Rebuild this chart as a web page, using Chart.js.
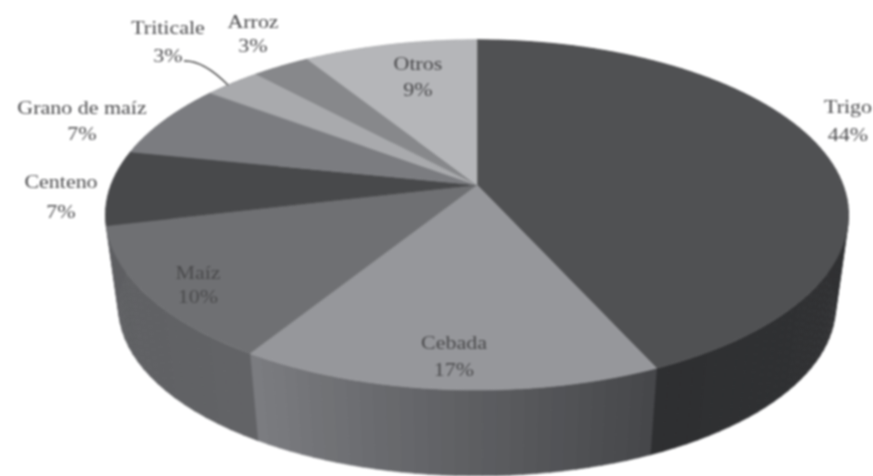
<!DOCTYPE html>
<html><head><meta charset="utf-8">
<style>html,body{margin:0;padding:0;background:#fff}canvas{display:block;filter:blur(0.8px)}</style>
<script src="https://cdn.jsdelivr.net/npm/chart.js@4/dist/chart.umd.min.js"></script>
</head><body><canvas id="c" width="873" height="476"></canvas>
<script>
const categories=["Trigo","Cebada","Maíz","Centeno","Grano de maíz","Triticale","Arroz","Otros"];
const shares=[44,17,10,7,7,3,3,9];
const topColors=["#505153","#96979b","#6f7073","#48494b","#7b7c80","#a9aaad","#87888b","#b5b6b9"];
const wallLeft=["#2e2f31","#7d7e82","#5e5f62","#5e5f62","#5e5f62","#7c7d80","#66676a","#8a8b8e"];
const wallRight=["#363739","#46474a","#626366","#5e5f62","#5e5f62","#7c7d80","#66676a","#8a8b8e"];
const labelAnchors=[[848,108,136],[454,344,371],[198,274,298],[61,183,213],[82,109,135],[168,29,57],[253,23,47],[418,65,91]];
const geom={cx:477,cy:185,a:366,b:170,k:0.171,depth:93,scale:0.965};
// perspective correction of the drawn angle, as fractions of the turn
const warpIn=[0,0.44,0.61,0.71,1];
const warpOut=[0,0.432,0.589,0.713,1];
function warp(ang){
  const t=((ang+Math.PI/2)/(2*Math.PI));
  for(let i=1;i<warpIn.length;i++){
    if(t<=warpIn[i]+1e-9){
      const u=(t-warpIn[i-1])/(warpIn[i]-warpIn[i-1]);
      return (warpOut[i-1]+u*(warpOut[i]-warpOut[i-1]))*2*Math.PI-Math.PI/2;
    }
  }
  return ang;
}
function project(angIn,lower){
  const ang=warp(angIn);
  const s=Math.sin(ang),d=1-geom.k*s,f=lower?geom.scale:1;
  return [geom.cx+f*geom.a*Math.cos(ang)/d, geom.cy+(lower?geom.depth:0)+f*geom.b*s/d];
}
function mix(c1,c2,t){
  const p=c=>[1,3,5].map(i=>parseInt(c.substr(i,2),16));
  const A=p(c1),B=p(c2);
  return 'rgb('+A.map((v,i)=>Math.round(v+(B[i]-v)*t)).join(',')+')';
}
const pseudo3d={
  id:'pseudo3d',
  beforeDatasetDraw(chart,args){
    const ctx=chart.ctx, arcs=chart.getDatasetMeta(args.index).data;
    arcs.forEach((arc,i)=>{
      const n=Math.max(2,Math.ceil((arc.endAngle-arc.startAngle)/0.035));
      for(let j=0;j<n;j++){
        const a0=arc.startAngle+(arc.endAngle-arc.startAngle)*j/n;
        const a1=arc.startAngle+(arc.endAngle-arc.startAngle)*(j+1)/n+0.002;
        const p=[project(a0,false),project(a1,false),project(a1,true),project(a0,true)];
        ctx.beginPath();ctx.moveTo(...p[0]);p.slice(1).forEach(q=>ctx.lineTo(...q));ctx.closePath();
        const col=mix(wallRight[i],wallLeft[i],j/n);
        ctx.fillStyle=col;ctx.strokeStyle=col;ctx.lineWidth=0.5;ctx.fill();ctx.stroke();
      }
    });
    arcs.forEach((arc,i)=>{
      const n=Math.max(2,Math.ceil((arc.endAngle-arc.startAngle)/0.02));
      ctx.beginPath();ctx.moveTo(geom.cx,geom.cy);
      for(let j=0;j<=n;j++){ctx.lineTo(...project(arc.startAngle+(arc.endAngle-arc.startAngle)*j/n,false));}
      ctx.closePath();
      ctx.fillStyle=topColors[i];ctx.strokeStyle=topColors[i];ctx.lineWidth=0.5;ctx.fill();ctx.stroke();
    });
    return false;
  },
  afterDatasetsDraw(chart){
    const ctx=chart.ctx;
    ctx.save();
    ctx.strokeStyle='#444';ctx.lineWidth=1.4;
    ctx.beginPath();ctx.moveTo(184,61);ctx.quadraticCurveTo(203,60,228,85);ctx.stroke();
    ctx.textAlign='center';ctx.textBaseline='middle';ctx.fillStyle='#4a4a4c';
    ctx.font='18px "Liberation Serif"';
    categories.forEach((c,i)=>{
      const [x,y1,y2]=labelAnchors[i];
      ctx.save();ctx.translate(x,0);ctx.scale(1.22,1);
      ctx.fillText(c,0,y1);ctx.fillText(shares[i]+'%',0,y2);
      ctx.restore();
    });
    ctx.restore();
  }
};
new Chart(document.getElementById('c'),{
  type:'pie',
  data:{labels:categories,datasets:[{data:shares,backgroundColor:topColors,borderWidth:0}]},
  options:{responsive:false,animation:false,plugins:{legend:{display:false},tooltip:{enabled:false}}},
  plugins:[pseudo3d]
});
</script></body></html>
